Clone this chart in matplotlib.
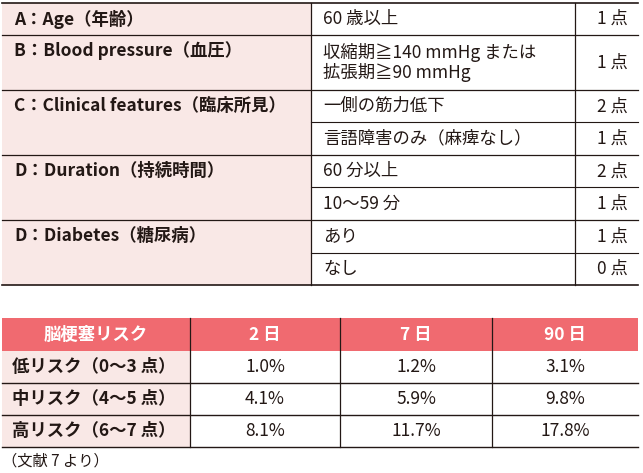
import matplotlib
matplotlib.use("Agg")
import matplotlib.pyplot as plt
from matplotlib.patches import Rectangle

plt.rcParams["font.family"] = ["Noto Sans CJK JP"]

factors = ["A：Age（年齢）", "B：Blood pressure（血圧）", "C：Clinical features（臨床所見）",
           "D：Duration（持続時間）", "D：Diabetes（糖尿病）"]
criteria = [["60 歳以上"], ["収縮期≧140 mmHg または\n拡張期≧90 mmHg"],
            ["一側の筋力低下", "言語障害のみ（麻痺なし）"],
            ["60 分以上", "10〜59 分"], ["あり", "なし"]]
points = [["1 点"], ["1 点"], ["2 点", "1 点"], ["2 点", "1 点"], ["1 点", "0 点"]]

risk_header = ["脳梗塞リスク", "2 日", "7 日", "90 日"]
risk_rows = ["低リスク（0〜3 点）", "中リスク（4〜5 点）", "高リスク（6〜7 点）"]
risk_vals = [["1.0%", "1.2%", "3.1%"], ["4.1%", "5.9%", "9.8%"], ["8.1%", "11.7%", "17.8%"]]
note = "（文献 7 より）"

fig = plt.figure(figsize=(6.43, 4.73), dpi=100)
ax = fig.add_axes([0, 0, 1, 1])
ax.set_xlim(0, 643); ax.set_ylim(473, 0); ax.axis("off")

PINK = "#f9e8e6"; RED = "#f06a70"; TXT = "#231815"; FS = 12.5
X0, X1, X2, X3 = 2, 311, 575, 638
y = 3
group_heights = [32, 55, 65, 65, 65]
ax.plot([X0, X3], [y, y], color=TXT, lw=1.2)
for i, gh in enumerate(group_heights):
    ax.add_patch(Rectangle((X0, y), X1 - X0, gh, color=PINK, lw=0))
    ax.text(X0 + 12, y + 16, factors[i], fontsize=FS, fontweight="bold", color=TXT, va="center")
    n = len(criteria[i])
    sh = gh / n
    for j in range(n):
        cy = y + sh * j + sh / 2
        ax.text(X1 + 12, cy, criteria[i][j], fontsize=FS, color=TXT, va="center", linespacing=1.1)
        ax.text(X3 - 10, cy, points[i][j], fontsize=FS, color=TXT, va="center", ha="right")
        if j > 0:
            ax.plot([X1, X3], [y + sh * j] * 2, color=TXT, lw=0.8)
    ax.plot([X0, X3], [y + gh] * 2, color=TXT, lw=1.2 if i == len(group_heights) - 1 else 0.9)
    y += gh
for xv in (X1, X2):
    ax.plot([xv, xv], [3, y], color=TXT, lw=0.9)

# risk table
cols = [2, 190, 340, 492, 638]
top = 318; hh = 33; rh = 32
ax.add_patch(Rectangle((cols[0], top), cols[-1] - cols[0], hh, color=RED, lw=0))
for k, h in enumerate(risk_header):
    ax.text((cols[k] + cols[k + 1]) / 2, top + hh / 2, h, fontsize=FS, fontweight="bold",
            color="white", ha="center", va="center")
for r, name in enumerate(risk_rows):
    ry = top + hh + r * rh
    ax.add_patch(Rectangle((cols[0], ry), cols[1] - cols[0], rh, color=PINK, lw=0))
    ax.text(cols[0] + 10, ry + rh / 2, name, fontsize=FS, fontweight="bold", color=TXT, va="center")
    for c, v in enumerate(risk_vals[r]):
        ax.text((cols[c + 1] + cols[c + 2]) / 2, ry + rh / 2, v, fontsize=FS, color=TXT,
                ha="center", va="center")
    ax.plot([cols[0], cols[-1]], [ry + rh] * 2, color=TXT, lw=1.0)
bottom = top + hh + 3 * rh
for xv in cols[1:4]:
    ax.plot([xv, xv], [top, bottom], color=TXT, lw=0.9)
ax.text(2, bottom + 14, note, fontsize=11, color=TXT, va="center")

fig.savefig("out.png", dpi=100)
